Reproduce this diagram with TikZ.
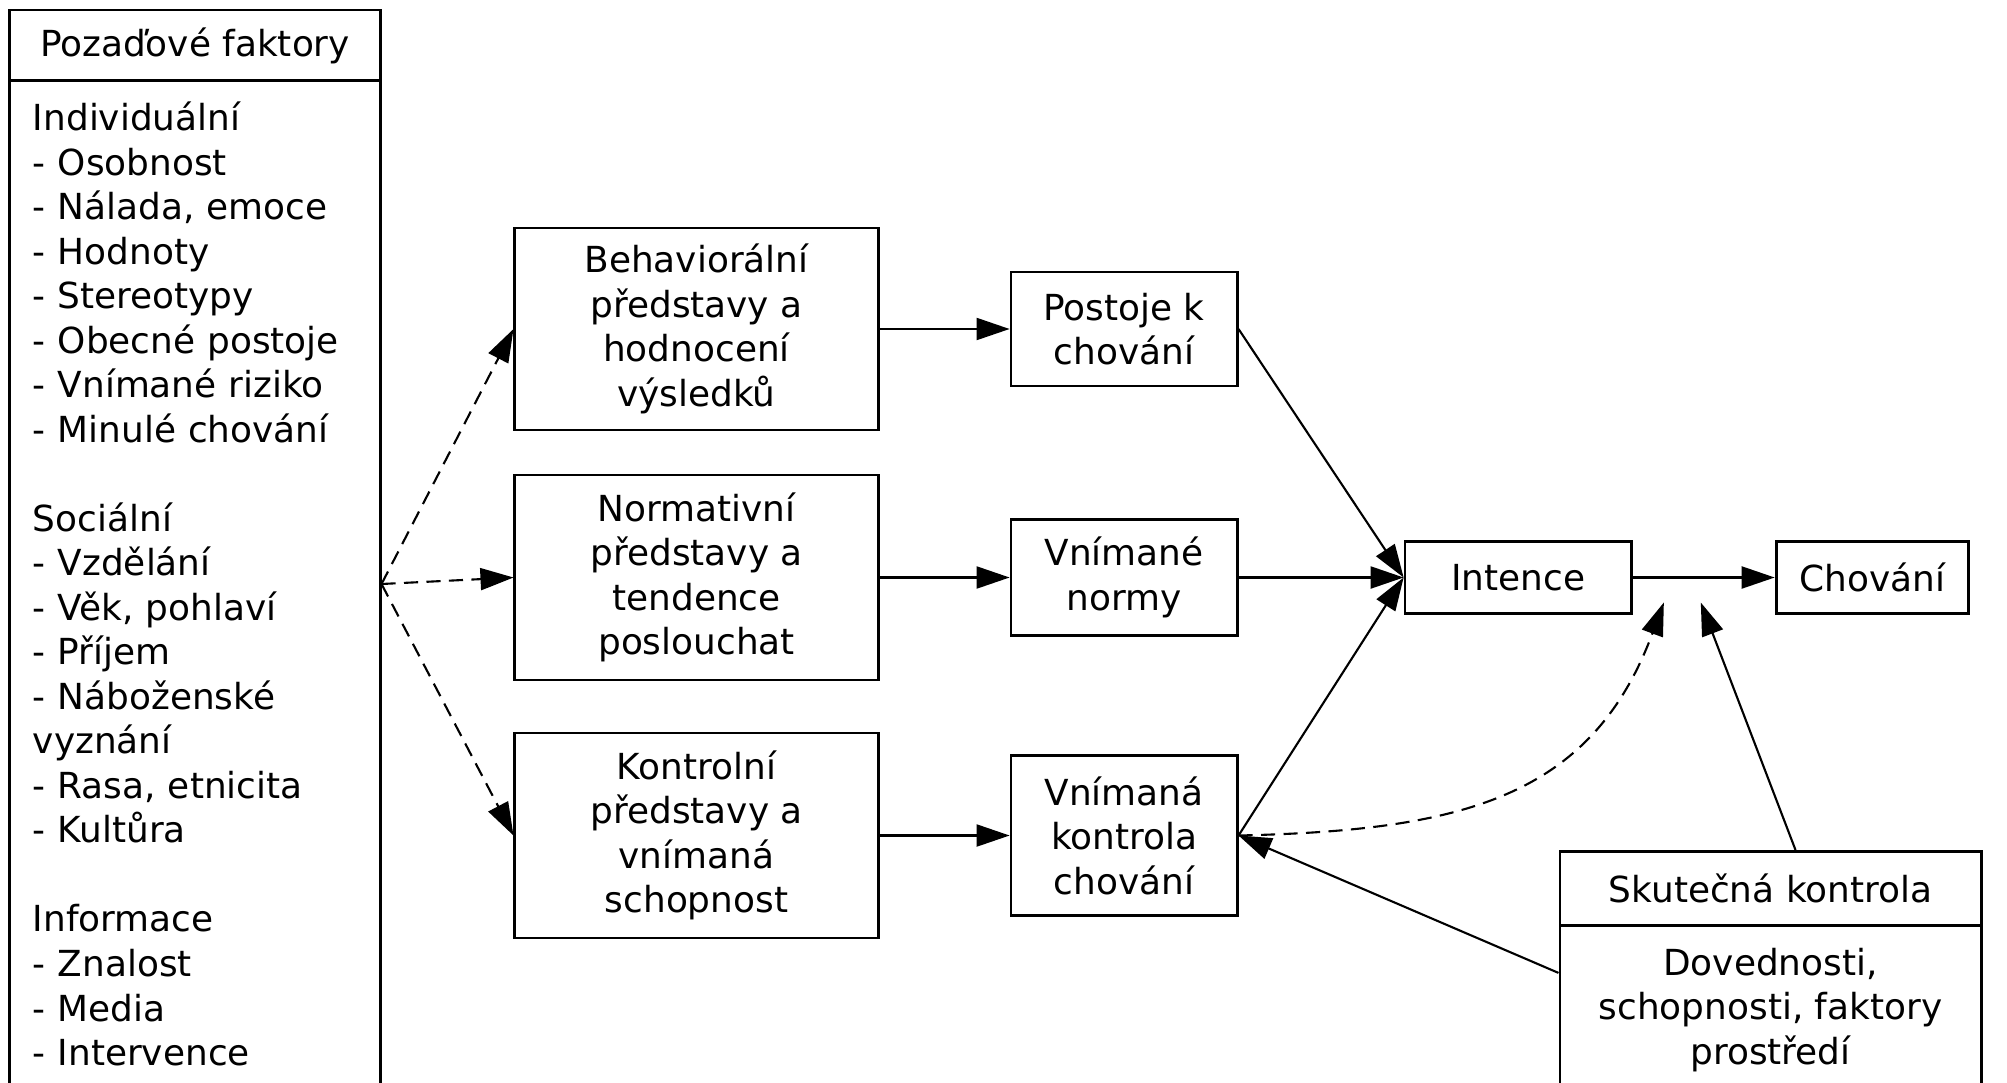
\documentclass[tikz,border=0pt]{standalone}
\usepackage{fontspec}
\setmainfont{DejaVu Sans}
\usepackage{tikz}
\usetikzlibrary{
  arrows.meta,
  positioning,
  shapes.multipart,
  calc
}
\tikzset{
  tpbnode/.style={
    draw, line width=0.8pt, font=\fontsize{10.2}{12.66}\selectfont,
    align=center, inner sep=2pt
  },
  belief/.style={tpbnode, minimum width=3.63cm, minimum height=2.05cm},
  percept/.style={tpbnode, minimum width=2.26cm},
  factbox/.style={tpbnode, minimum width=3.7cm},
  ctrlbox/.style={tpbnode, rectangle split, rectangle split parts=2,
    minimum width=4.21cm, inner ysep=6pt},
  link/.style={-{Triangle[length=3.3mm, width=2.2mm]}, line width=0.6pt},
  weaklink/.style={link, dash pattern=on 4pt off 2.4pt}
}

\begin{document}
\begin{tikzpicture}[x=0.01cm, y=-0.01cm, node distance=13.0mm]
  \useasboundingbox (0,0) rectangle (2007,1082);
  % pozadove faktory
  \node[factbox, minimum height=0.71cm] (poz) at (195,45.5) {Pozaďové faktory};
  \node[factbox, text width=3.24cm, inner xsep=0.23cm, align=left,
        minimum height=10.06cm] (fakt) at (195,584) {Individuální\\
    - Osobnost\\
    - Nálada, emoce\\
    - Hodnoty\\
    - Stereotypy\\
    - Obecné postoje\\
    - Vnímané riziko\\
    - Minulé chování\\[12.66pt]
    Sociální\\
    - Vzdělání\\
    - Věk, pohlaví\\
    - Příjem\\
    - Náboženské\\
    vyznání\\
    - Rasa, etnicita\\
    - Kultůra\\[12.66pt]
    Informace\\
    - Znalost\\
    - Media\\
    - Intervence};
  % predstavy
  \node[belief, minimum height=2.02cm] (beh) at (696.5,329) {Behaviorální\\představy a\\hodnocení\\výsledků};
  \node[belief] (norm) at (696.5,577.5) {Normativní\\představy a\\tendence\\poslouchat};
  \node[belief] (kontr) at (696.5,835.5) {Kontrolní\\představy a\\vnímaná\\schopnost};
  \node[percept, minimum height=1.14cm, right=of beh] (postoje) {Postoje k\\chování};
  \node[percept, minimum height=1.16cm, right=of norm] (normy) {Vnímané\\normy};
  \node[percept, minimum height=1.60cm, right=of kontr] (vkontrola) {Vnímaná\\kontrola\\chování};
  \node[percept, minimum height=0.72cm, right=16.5mm of normy] (intence) {Intence};
  \node[tpbnode, minimum width=1.92cm, minimum height=0.72cm, right=14.2mm of intence] (chovani) {Chování};
  \node[ctrlbox, anchor=north] (skut) at (1770.5,850)
    {Skutečná kontrola\nodepart{two}Dovednosti,\\schopnosti, faktory\\prostředí};
  \coordinate (modin) at ($(intence.east)!0.22!(chovani.west)+(0,25)$);
  \coordinate (modout) at ($(intence.east)!0.48!(chovani.west)+(0,25)$);
  \coordinate (skuttop) at ($(skut.north)+(25,0)$);
  % spojnice
  \foreach \n in {beh,norm,kontr}{\draw[weaklink] (fakt.east) -- (\n.west);}
  \foreach \a/\b in {beh/postoje,norm/normy,kontr/vkontrola}{\draw[link] (\a.east) -- (\b.west);}
  \foreach \n in {postoje,normy,vkontrola}{\draw[link] (\n.east) -- (intence.west);}
  \draw[link] (intence) -- (chovani);
  \draw[weaklink] (vkontrola.east) .. controls +(220,-5) and +(-73,197) .. (modin);
  \draw[link] (skuttop) -- (modout);
  \draw[link] (skut.west) -- (vkontrola.east);
\end{tikzpicture}
\end{document}
